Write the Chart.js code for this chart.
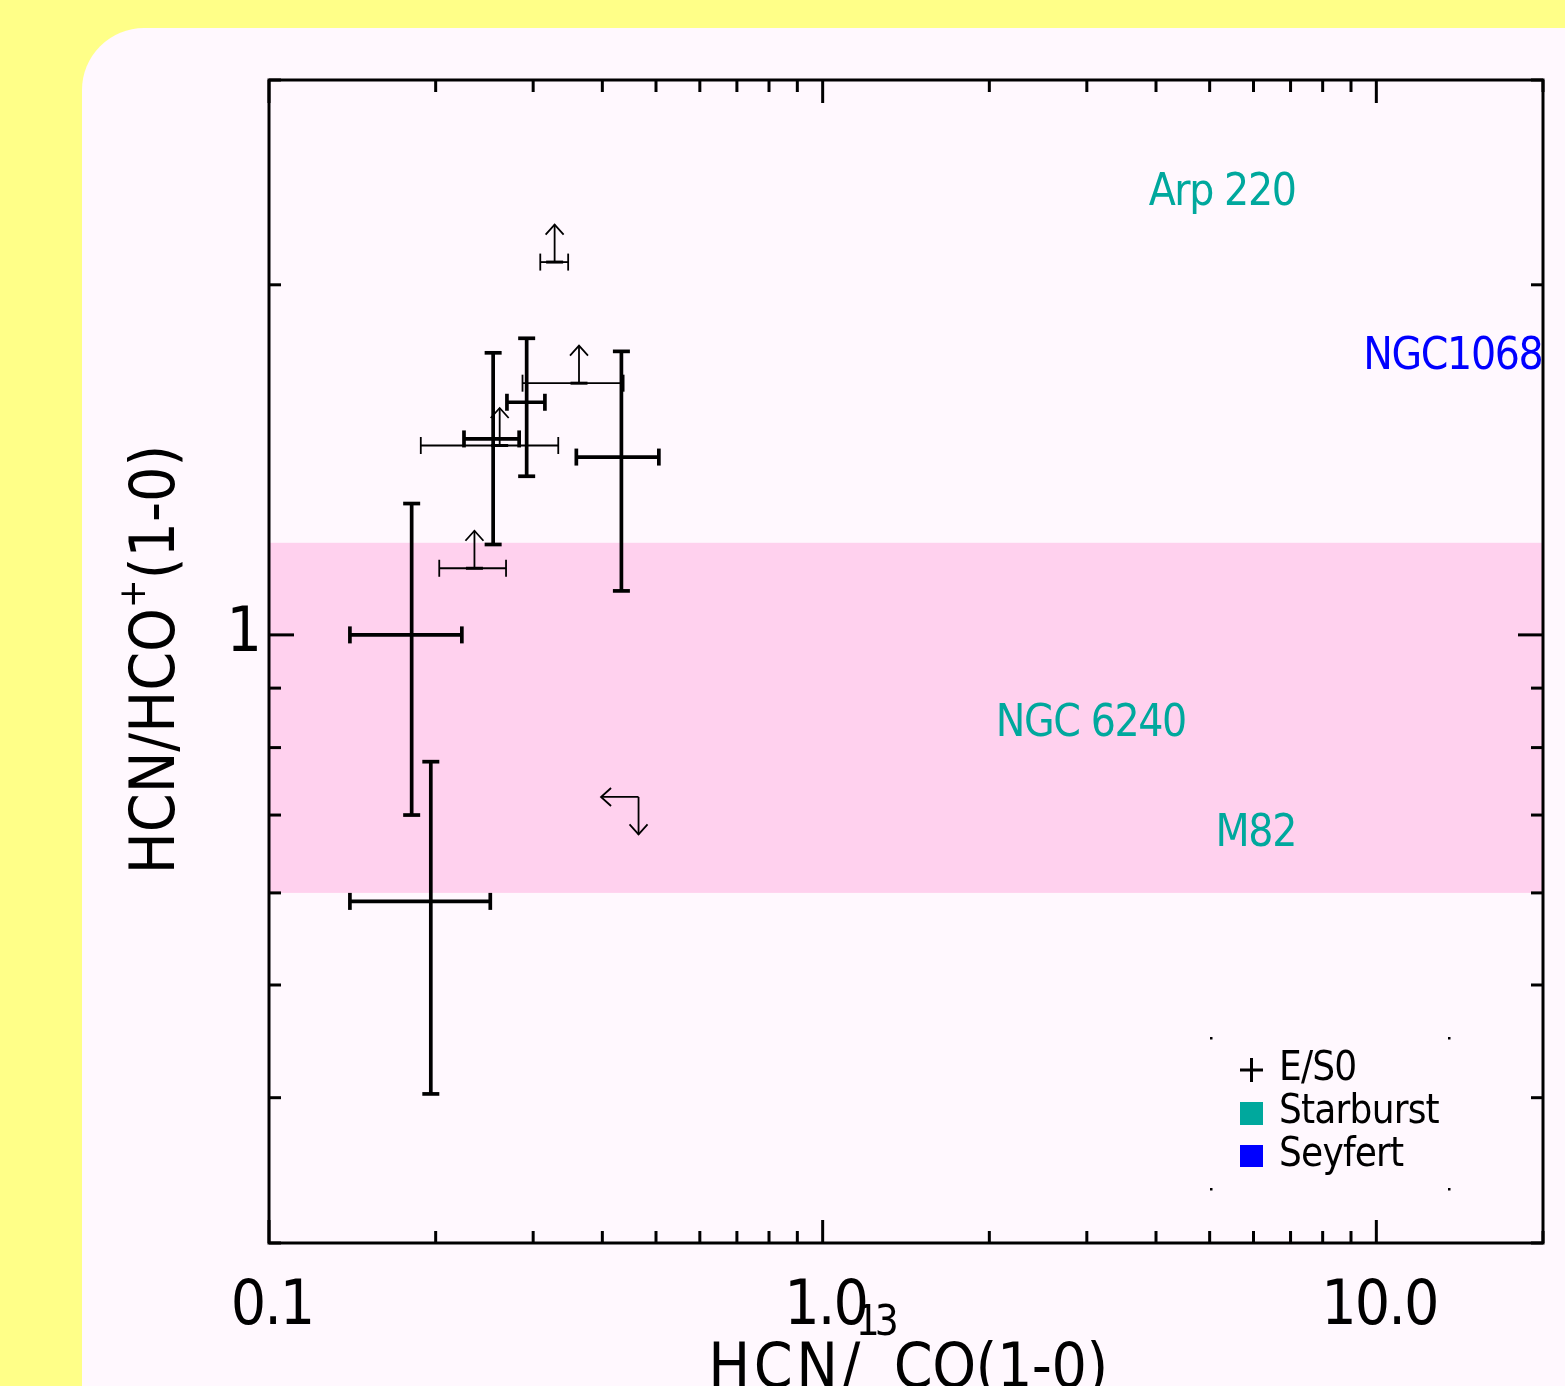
<!DOCTYPE html>
<html><head><meta charset="utf-8">
<script src="https://cdn.jsdelivr.net/npm/chart.js@4.4.1/dist/chart.umd.min.js"></script>
<style>
html,body{margin:0;padding:0;background:#ffff88;overflow:hidden}
#wrap{position:absolute;left:0;top:0;width:1565px;height:1386px}
</style></head><body>
<div id="wrap"><canvas id="c" width="1565" height="1386"></canvas></div>
<script>
// ---------------- data ----------------
const xRange = [0.1, 20];
const yRange = [0.3, 3];
const xTickValues = [0.1,0.2,0.3,0.4,0.5,0.6,0.7,0.8,0.9,1,2,3,4,5,6,7,8,9,10,20];
const xMajorTicks = [0.1, 1, 10];
const xTickLabels = ['0.1', '1.0', '10.0'];
const yTickValues = [0.3,0.4,0.5,0.6,0.7,0.8,0.9,1,2,3];
const yMajorTicks = [1];
const yTickLabels = ['1'];

// E/S0 detections (value, lower, upper)
const detX   = [0.254, 0.292, 0.433, 0.181, 0.196];
const detXlo = [0.225, 0.269, 0.359, 0.140, 0.140];
const detXhi = [0.283, 0.315, 0.506, 0.223, 0.251];
const detY   = [1.474, 1.585, 1.422, 1.000, 0.590];
const detYlo = [1.196, 1.369, 1.091, 0.700, 0.403];
const detYhi = [1.748, 1.799, 1.753, 1.297, 0.778];

// E/S0 lower limits in HCN/HCO+ (x with error range)
const lowX   = [0.328, 0.363, 0.261, 0.235];
const lowXlo = [0.309, 0.287, 0.188, 0.203];
const lowXhi = [0.347, 0.437, 0.333, 0.268];
const lowY   = [2.092, 1.646, 1.455, 1.141];

// E/S0 upper limit in both ratios
const upX = [0.465];
const upY = [0.7255];

// shaded range
const bandLow = 0.6, bandHigh = 1.2;

// reference galaxies
const refNames = ['Arp 220', 'NGC1068', 'NGC 6240', 'M82'];
const refType  = ['Starburst', 'Seyfert', 'Starburst', 'Starburst'];
const refX     = [3.88, 9.475, 2.055, 5.125];
const refY     = [2.341, 1.694, 0.819, 0.659];

const legendNames = ['E/S0', 'Starburst', 'Seyfert'];

// ---------------- styles ----------------
const FONT = '"DejaVu Sans Condensed", "DejaVu Sans", sans-serif';
const typeColor = { 'Starburst': '#00a89d', 'Seyfert': '#0000ff' };
const BAND = '#ffd1ee';
const PANEL = '#fff8fe';
const YELLOW = '#ffff88';

function line(ctx, x0, y0, x1, y1) { ctx.beginPath(); ctx.moveTo(x0, y0); ctx.lineTo(x1, y1); ctx.stroke(); }

function drawRich(ctx, parts, x, y, align) {
  ctx.save();
  ctx.textAlign = 'left'; ctx.textBaseline = 'alphabetic';
  let total = 0;
  parts.forEach(p => {
    ctx.font = p.size + 'px ' + FONT; ctx.letterSpacing = (p.sp || 0) + 'px';
    p.w = ctx.measureText(p.t).width; total += p.w + (p.dx || 0);
  });
  let cx = align === 'center' ? x - total / 2 : (align === 'right' ? x - total : x);
  parts.forEach(p => {
    ctx.font = p.size + 'px ' + FONT; ctx.letterSpacing = (p.sp || 0) + 'px';
    cx += (p.dx || 0);
    ctx.fillText(p.t, cx, y - (p.rise || 0)); cx += p.w;
  });
  ctx.restore();
}

const detData = detX.map((v, i) => ({ x: v, y: detY[i], xMin: detXlo[i], xMax: detXhi[i], yMin: detYlo[i], yMax: detYhi[i] }));
const lowData = lowX.map((v, i) => ({ x: v, y: lowY[i], xMin: lowXlo[i], xMax: lowXhi[i] }));
const upData  = upX.map((v, i) => ({ x: v, y: upY[i] }));
const refData = refX.map((v, i) => ({ x: v, y: refY[i], name: refNames[i], type: refType[i] }));

const decor = {
  id: 'decor',
  beforeDraw(chart) {
    const ctx = chart.ctx;
    ctx.save();
    ctx.fillStyle = YELLOW; ctx.fillRect(0, 0, chart.width, chart.height);
    ctx.fillStyle = PANEL;
    ctx.beginPath(); ctx.roundRect(82, 28, chart.width + 200, chart.height + 200, 62); ctx.fill();
    ctx.restore();
    ctx.letterSpacing = '-2px';
  },
  beforeDatasetsDraw(chart) {
    const ctx = chart.ctx, a = chart.chartArea, ys = chart.scales.y;
    ctx.save();
    ctx.fillStyle = BAND;
    const y0 = ys.getPixelForValue(bandHigh), y1 = ys.getPixelForValue(bandLow);
    ctx.fillRect(a.left, y0, a.right - a.left, y1 - y0);
    ctx.restore();
  },
  afterDatasetsDraw(chart) {
    const ctx = chart.ctx, xs = chart.scales.x, ys = chart.scales.y;
    const ARROW = 37.5, HEAD = 10, HW = 9, CAP = 8.5;
    ctx.save();
    ctx.strokeStyle = '#000'; ctx.lineCap = 'butt';
    // detections
    chart.data.datasets[0].data.forEach(p => {
      const px = xs.getPixelForValue(p.x), py = ys.getPixelForValue(p.y);
      const x0 = xs.getPixelForValue(p.xMin), x1 = xs.getPixelForValue(p.xMax);
      const y0 = ys.getPixelForValue(p.yMax), y1 = ys.getPixelForValue(p.yMin);
      ctx.lineWidth = 3.7;
      line(ctx, x0, py, x1, py); line(ctx, px, y0, px, y1);
      line(ctx, x0, py - CAP, x0, py + CAP); line(ctx, x1, py - CAP, x1, py + CAP);
      line(ctx, px - CAP, y0, px + CAP, y0); line(ctx, px - CAP, y1, px + CAP, y1);
    });
    // lower limits
    chart.data.datasets[1].data.forEach(p => {
      const px = xs.getPixelForValue(p.x), py = ys.getPixelForValue(p.y);
      const x0 = xs.getPixelForValue(p.xMin), x1 = xs.getPixelForValue(p.xMax);
      ctx.lineWidth = 1.8;
      line(ctx, x0, py, x1, py);
      line(ctx, x0, py - CAP, x0, py + CAP); line(ctx, x1, py - CAP, x1, py + CAP);
      line(ctx, px, py, px, py - ARROW);
      ctx.beginPath(); ctx.moveTo(px - HW, py - ARROW + HEAD); ctx.lineTo(px, py - ARROW); ctx.lineTo(px + HW, py - ARROW + HEAD); ctx.stroke();
      ctx.lineWidth = 3;
      line(ctx, px - 8.5, py, px + 8.5, py);
    });
    // upper limits
    chart.data.datasets[2].data.forEach(p => {
      const px = xs.getPixelForValue(p.x), py = ys.getPixelForValue(p.y);
      ctx.lineWidth = 1.8;
      line(ctx, px, py, px - ARROW, py);
      ctx.beginPath(); ctx.moveTo(px - ARROW + HEAD, py - HW); ctx.lineTo(px - ARROW, py); ctx.lineTo(px - ARROW + HEAD, py + HW); ctx.stroke();
      line(ctx, px, py, px, py + ARROW);
      ctx.beginPath(); ctx.moveTo(px - HW, py + ARROW - HEAD); ctx.lineTo(px, py + ARROW); ctx.lineTo(px + HW, py + ARROW - HEAD); ctx.stroke();
    });
    // reference galaxy names
    chart.data.datasets[3].data.forEach(p => {
      const px = xs.getPixelForValue(p.x), py = ys.getPixelForValue(p.y);
      ctx.fillStyle = typeColor[p.type];
      drawRich(ctx, [{ t: p.name, size: 44, sp: -1.4 }], px, py, 'left');
    });
    ctx.restore();
  },
  afterDraw(chart) {
    const ctx = chart.ctx, a = chart.chartArea, xs = chart.scales.x, ys = chart.scales.y;
    ctx.save();
    ctx.strokeStyle = '#000';
    // ticks (inward, all four sides)
    ctx.lineWidth = 3;
    xTickValues.forEach(v => {
      const px = xs.getPixelForValue(v);
      const L = xMajorTicks.includes(v) ? 23 : 12;
      line(ctx, px, a.bottom, px, a.bottom - L);
      line(ctx, px, a.top, px, a.top + L);
    });
    yTickValues.forEach(v => {
      const py = ys.getPixelForValue(v);
      const L = yMajorTicks.includes(v) ? 25 : 12;
      line(ctx, a.left, py, a.left + L, py);
      line(ctx, a.right, py, a.right - L, py);
    });
    // frame
    ctx.lineWidth = 3;
    ctx.strokeRect(a.left, a.top, a.right - a.left, a.bottom - a.top);
    // axis titles
    ctx.fillStyle = '#000';
    drawRich(ctx, [
      { t: 'HCN/', size: 62, sp: 3.5 },
      { t: '13', size: 42, sp: -5, rise: 52, dx: -8 },
      { t: 'CO(1-0)', size: 62, sp: -0.5 }
    ], (a.left + a.right) / 2 + 2, 1387, 'center');
    ctx.save();
    ctx.translate(174, (a.top + a.bottom) / 2 - 2);
    ctx.rotate(-Math.PI / 2);
    drawRich(ctx, [
      { t: 'HCN/HCO', size: 62, sp: 0 },
      { t: '+', size: 38, rise: 29 },
      { t: '(1-0)', size: 62, sp: 0 }
    ], 0, 0, 'center');
    ctx.restore();
    // legend
    ctx.fillStyle = '#000';
    [[1211, 1038], [1449, 1038], [1211, 1189], [1449, 1189]].forEach(c => ctx.fillRect(c[0] - 1, c[1] - 1, 2.5, 2.5));
    ctx.lineWidth = 3;
    line(ctx, 1240, 1070, 1263, 1070); line(ctx, 1251.5, 1058, 1251.5, 1082);
    ctx.fillStyle = typeColor.Starburst; ctx.fillRect(1240, 1102, 23, 23);
    ctx.fillStyle = typeColor.Seyfert; ctx.fillRect(1240, 1145, 23, 22);
    ctx.fillStyle = '#000';
    const base = [1080, 1123, 1166];
    legendNames.forEach((n, i) => drawRich(ctx, [{ t: n, size: 40, sp: -0.8 }], 1279, base[i], 'left'));
    ctx.restore();
  }
};

new Chart(document.getElementById('c'), {
  type: 'scatter',
  data: {
    datasets: [
      { label: 'E/S0', data: detData, pointRadius: 0, showLine: false },
      { label: 'E/S0 lower limits', data: lowData, pointRadius: 0, showLine: false },
      { label: 'E/S0 upper limits', data: upData, pointRadius: 0, showLine: false },
      { label: 'references', data: refData, pointRadius: 0, showLine: false }
    ]
  },
  options: {
    responsive: false, animation: false, devicePixelRatio: 1,
    layout: { padding: { left: 0, right: 22, top: 80, bottom: 0 } },
    plugins: { legend: { display: false }, tooltip: { enabled: false } },
    scales: {
      x: {
        type: 'logarithmic', position: 'bottom', min: xRange[0], max: xRange[1],
        afterBuildTicks: s => { s.ticks = xTickValues.map(v => ({ value: v, major: xMajorTicks.includes(v) })); },
        afterFit: s => { s.height = 143; },
        grid: { display: false }, border: { display: false },
        ticks: {
          autoSkip: false, maxRotation: 0, minRotation: 0, padding: 20, labelOffset: 3,
          color: '#000', font: { family: FONT, size: 62 },
          callback: v => { const i = xMajorTicks.indexOf(v); return i >= 0 ? xTickLabels[i] : ''; }
        }
      },
      y: {
        type: 'logarithmic', position: 'left', min: yRange[0], max: yRange[1],
        afterBuildTicks: s => { s.ticks = yTickValues.map(v => ({ value: v, major: yMajorTicks.includes(v) })); },
        afterFit: s => { s.width = 269; },
        grid: { display: false }, border: { display: false },
        ticks: {
          autoSkip: false, padding: 1, color: '#000', font: { family: FONT, size: 62 },
          callback: v => { const i = yMajorTicks.indexOf(v); return i >= 0 ? yTickLabels[i] : ''; }
        }
      }
    }
  },
  plugins: [decor]
});
</script>
</body></html>
